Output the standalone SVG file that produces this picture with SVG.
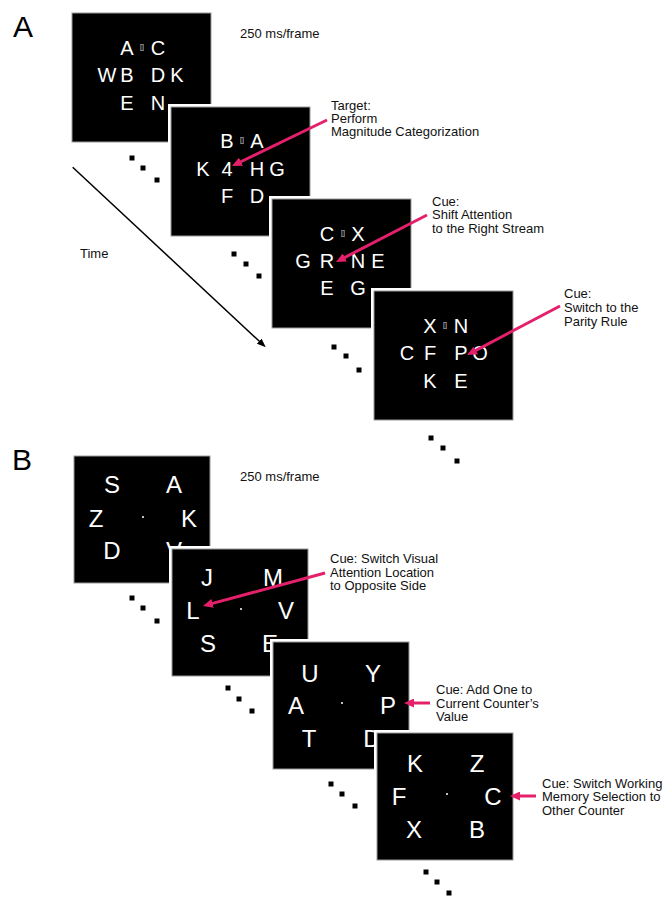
<svg xmlns="http://www.w3.org/2000/svg" width="670" height="899" viewBox="0 0 670 899">
<style>
.halo{fill:none;stroke:#fff;stroke-width:6}
.frame{fill:#000;stroke:#999;stroke-width:1}
.la{font-family:"Liberation Sans",Arial,sans-serif;font-size:20px;fill:#fff;text-anchor:middle}
.lb{font-family:"Liberation Sans",Arial,sans-serif;font-size:24px;fill:#fff;text-anchor:middle}
.br{font-family:"Liberation Sans",Arial,sans-serif;font-size:7px;fill:#ddd;text-anchor:middle}
.lbl{font-family:"Liberation Sans",Arial,sans-serif;font-size:13px;fill:#111}
.panel{font-family:"Liberation Sans",Arial,sans-serif;font-size:30px;fill:#000}
.pink{stroke:#e5206b;stroke-width:3;fill:none;marker-end:url(#ph)}
.time{stroke:#000;stroke-width:1.5;fill:none;marker-end:url(#th)}
.fix{fill:#fff}
.sq{fill:#000}
</style>
<defs>
<marker id="ph" markerUnits="userSpaceOnUse" markerWidth="10" markerHeight="9" refX="2" refY="4.5" orient="auto"><path d="M0,0 L10,4.5 L0,9 z" fill="#e5206b"/></marker>
<marker id="th" markerUnits="userSpaceOnUse" markerWidth="9" markerHeight="7" refX="1" refY="3.5" orient="auto"><path d="M0,0 L9,3.5 L0,7 z" fill="#000"/></marker>
</defs>
<rect width="670" height="899" fill="#fff"/>
<text class="panel" x="13" y="37">A</text>
<text class="panel" x="12" y="470">B</text>
<text class="lbl" x="240" y="38">250 ms/frame</text>
<text class="lbl" x="240" y="481">250 ms/frame</text>
<text class="lbl" x="80" y="258">Time</text>

<g id="a1">
<rect class="halo" x="72" y="13" width="139" height="129"/><rect class="frame" x="72" y="13" width="139" height="129"/>
<text class="la" x="127" y="55">A</text><text class="br" x="142" y="49">[]</text><text class="la" x="158" y="55">C</text>
<text class="la" x="107" y="82">W</text><text class="la" x="127" y="82">B</text><text class="la" x="158" y="82">D</text><text class="la" x="177" y="82">K</text>
<text class="la" x="127" y="110">E</text><text class="la" x="158" y="110">N</text>
</g>
<g id="a2">
<rect class="halo" x="171" y="107" width="139" height="129"/><rect class="frame" x="171" y="107" width="139" height="129"/>
<text class="la" x="227" y="148">B</text><text class="br" x="242" y="142">[]</text><text class="la" x="257" y="148">A</text>
<text class="la" x="203" y="176">K</text><text class="la" x="227" y="176">4</text><text class="la" x="257" y="176">H</text><text class="la" x="277" y="176">G</text>
<text class="la" x="227" y="203">F</text><text class="la" x="257" y="203">D</text>
</g>
<g id="a3">
<rect class="halo" x="272" y="199" width="139" height="129"/><rect class="frame" x="272" y="199" width="139" height="129"/>
<text class="la" x="327" y="241">C</text><text class="br" x="343" y="235">[]</text><text class="la" x="358" y="241">X</text>
<text class="la" x="303" y="268">G</text><text class="la" x="327" y="268">R</text><text class="la" x="358" y="268">N</text><text class="la" x="378" y="268">E</text>
<text class="la" x="327" y="295">E</text><text class="la" x="358" y="295">G</text>
</g>
<g id="a4">
<rect class="halo" x="374" y="291" width="139" height="129"/><rect class="frame" x="374" y="291" width="139" height="129"/>
<text class="la" x="430" y="333">X</text><text class="br" x="445" y="327">[]</text><text class="la" x="461" y="333">N</text>
<text class="la" x="407" y="360">C</text><text class="la" x="430" y="360">F</text><text class="la" x="461" y="360">P</text><text class="la" x="480" y="360">O</text>
<text class="la" x="430" y="388">K</text><text class="la" x="461" y="388">E</text>
</g>

<g id="b1">
<rect class="halo" x="74" y="456" width="136" height="127"/><rect class="frame" x="74" y="456" width="136" height="127"/>
<text class="lb" x="112" y="493">S</text><text class="lb" x="174" y="493">A</text>
<text class="lb" x="96" y="527">Z</text><circle class="fix" cx="143" cy="517" r="1"/><text class="lb" x="189" y="527">K</text>
<text class="lb" x="112" y="559">D</text><text class="lb" x="174" y="559">V</text>
</g>
<g id="b2">
<rect class="halo" x="172" y="549" width="136" height="127"/><rect class="frame" x="172" y="549" width="136" height="127"/>
<text class="lb" x="207" y="586">J</text><text class="lb" x="273" y="586">M</text>
<text class="lb" x="193" y="619">L</text><circle class="fix" cx="241" cy="609" r="1"/><text class="lb" x="286" y="619">V</text>
<text class="lb" x="208" y="652">S</text><text class="lb" x="270" y="652">E</text>
</g>
<g id="b3">
<rect class="halo" x="273" y="642" width="136" height="127"/><rect class="frame" x="273" y="642" width="136" height="127"/>
<text class="lb" x="310" y="682">U</text><text class="lb" x="373" y="682">Y</text>
<text class="lb" x="296" y="714">A</text><circle class="fix" cx="342" cy="703" r="1"/><text class="lb" x="388" y="714">P</text>
<text class="lb" x="309" y="747">T</text><text class="lb" x="372" y="747">D</text>
</g>
<g id="b4">
<rect class="halo" x="377" y="733" width="136" height="127"/><rect class="frame" x="377" y="733" width="136" height="127"/>
<text class="lb" x="415" y="772">K</text><text class="lb" x="477" y="772">Z</text>
<text class="lb" x="399" y="805">F</text><circle class="fix" cx="447" cy="794" r="1"/><text class="lb" x="493" y="805">C</text>
<text class="lb" x="414" y="838">X</text><text class="lb" x="477" y="838">B</text>
</g>

<g id="ellipses">
<rect class="sq" x="129.5" y="155.5" width="5" height="5"/><rect class="sq" x="140.5" y="165.5" width="5" height="5"/><rect class="sq" x="154.5" y="177.5" width="5" height="5"/>
<rect class="sq" x="231.5" y="251.5" width="5" height="5"/><rect class="sq" x="243.5" y="261.5" width="5" height="5"/><rect class="sq" x="256.5" y="273.5" width="5" height="5"/>
<rect class="sq" x="331.5" y="344.5" width="5" height="5"/><rect class="sq" x="343.5" y="353.5" width="5" height="5"/><rect class="sq" x="356.5" y="367.5" width="5" height="5"/>
<rect class="sq" x="428.5" y="435.5" width="5" height="5"/><rect class="sq" x="440.5" y="445.5" width="5" height="5"/><rect class="sq" x="454.5" y="458.5" width="5" height="5"/>
<rect class="sq" x="129.5" y="595.5" width="5" height="5"/><rect class="sq" x="140.5" y="605.5" width="5" height="5"/><rect class="sq" x="154.5" y="618.5" width="5" height="5"/>
<rect class="sq" x="225.5" y="685.5" width="5" height="5"/><rect class="sq" x="236.5" y="696.5" width="5" height="5"/><rect class="sq" x="249.5" y="708.5" width="5" height="5"/>
<rect class="sq" x="328.5" y="781.5" width="5" height="5"/><rect class="sq" x="339.5" y="791.5" width="5" height="5"/><rect class="sq" x="352.5" y="803.5" width="5" height="5"/>
<rect class="sq" x="423.5" y="869.5" width="5" height="5"/><rect class="sq" x="434.5" y="879.5" width="5" height="5"/><rect class="sq" x="446.5" y="890.5" width="5" height="5"/>
</g>

<g id="labels">
<text class="lbl" x="331" y="109.5">Target:</text>
<text class="lbl" x="331" y="122.8">Perform</text>
<text class="lbl" x="331" y="136">Magnitude Categorization</text>
<text class="lbl" x="432" y="205.7">Cue:</text>
<text class="lbl" x="432" y="219.3">Shift Attention</text>
<text class="lbl" x="432" y="233">to the Right Stream</text>
<text class="lbl" x="564" y="298.3">Cue:</text>
<text class="lbl" x="564" y="312">Switch to the</text>
<text class="lbl" x="564" y="325.5">Parity Rule</text>
<text class="lbl" x="330" y="562.7">Cue: Switch Visual</text>
<text class="lbl" x="330" y="576.5">Attention Location</text>
<text class="lbl" x="330" y="590">to Opposite Side</text>
<text class="lbl" x="436" y="694">Cue: Add One to</text>
<text class="lbl" x="436" y="707.7">Current Counter’s</text>
<text class="lbl" x="436" y="721">Value</text>
<text class="lbl" x="542" y="787.5">Cue: Switch Working</text>
<text class="lbl" x="542" y="801.3">Memory Selection to</text>
<text class="lbl" x="542" y="815">Other Counter</text>
</g>

<g id="connectors">
<line class="time" x1="72.7" y1="167.3" x2="259.9" y2="341.8"/>
<line class="pink" x1="327" y1="120" x2="239.2" y2="162.5"/>
<line class="pink" x1="427" y1="215" x2="343.1" y2="258.3"/>
<line class="pink" x1="560" y1="306" x2="474.1" y2="351.3"/>
<line class="pink" x1="325" y1="573" x2="210.7" y2="603.9"/>
<line class="pink" x1="430" y1="703" x2="412" y2="703"/>
<line class="pink" x1="536" y1="796" x2="518" y2="796"/>
</g>
</svg>
